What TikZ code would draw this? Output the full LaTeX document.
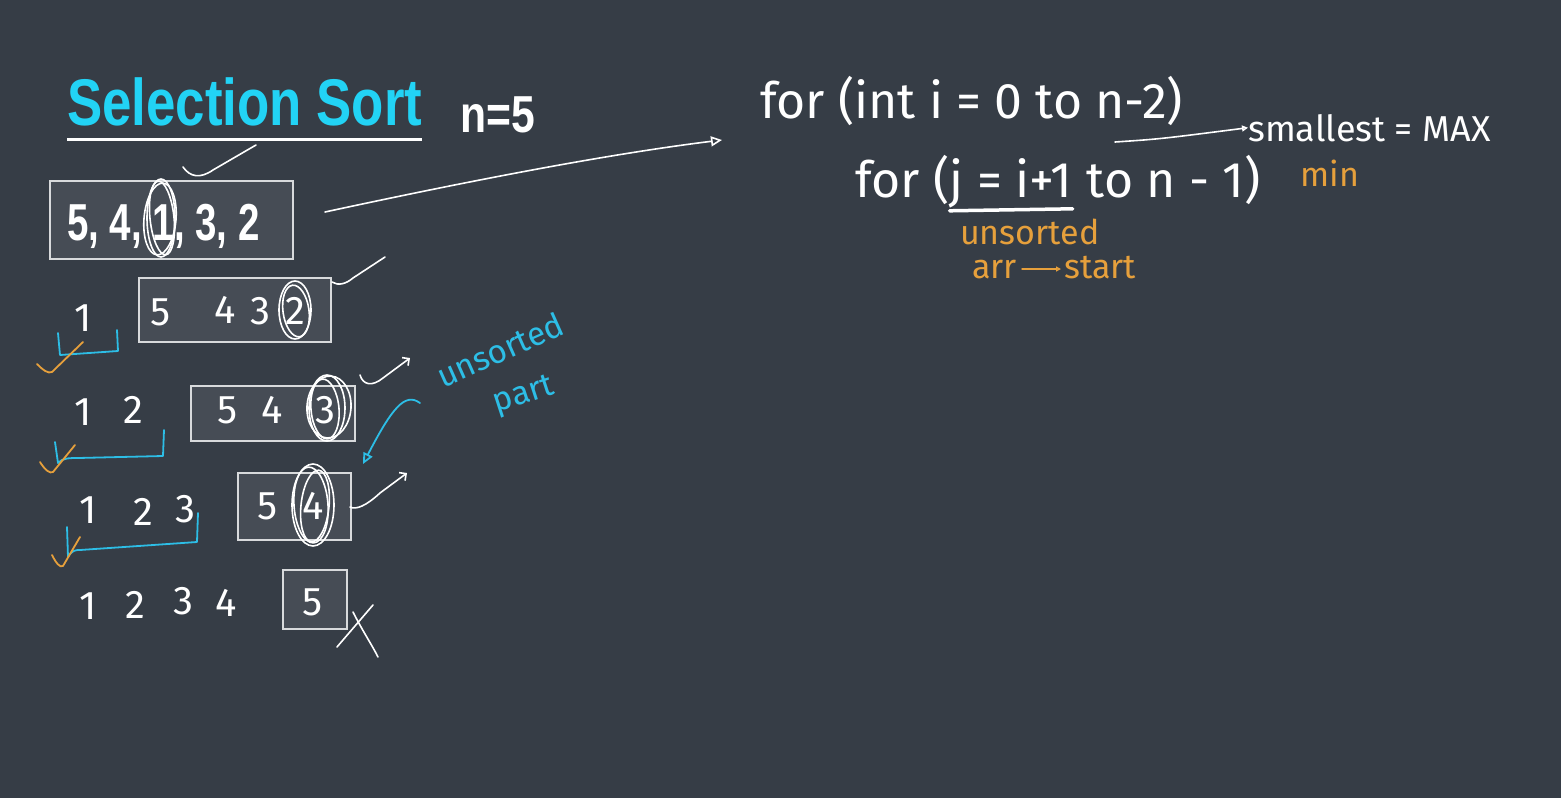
\documentclass[tikz,border=0pt]{standalone}
\usepackage{fontspec}
\setmainfont{Liberation Sans}
\newfontfamily\hand{Fira Sans}
\usetikzlibrary{arrows.meta}
\definecolor{bg}{HTML}{363D46}
\definecolor{boxfill}{HTML}{464C55}
\definecolor{boxline}{HTML}{D8DADC}
\definecolor{titlecyan}{HTML}{22D3F5}
\definecolor{pencyan}{HTML}{2DBEE6}
\definecolor{penorange}{HTML}{E6A03C}
\tikzset{
  pen/.style={draw=white, line width=1.6pt, line cap=round, line join=round},
  cpen/.style={draw=pencyan, line width=1.8pt, line cap=round, line join=round},
  open/.style={draw=penorange, line width=1.8pt, line cap=round, line join=round},
  arrbox/.style={draw=boxline, fill=boxfill, line width=1.5pt, inner sep=0pt, anchor=north west},
  hw/.style={font=\hand\fontsize{40}{40}\selectfont, text=white, inner sep=0pt},
  code/.style={font=\hand\fontsize{50}{50}\selectfont, text=white, inner sep=0pt, anchor=base west},
  boldtxt/.style={font=\bfseries\fontsize{52}{52}\selectfont, text=white, inner sep=0pt},
  otxt/.style={font=\hand\fontsize{34}{34}\selectfont, text=penorange, inner sep=0pt},
  ctxt/.style={font=\hand\fontsize{33}{33}\selectfont, text=pencyan, inner sep=0pt},
  tip/.style={-{Triangle[open, length=11pt, width=10pt]}}
}
\begin{document}
\begin{tikzpicture}[x=1pt,y=-1pt]
\fill[bg] (0,0) rectangle (1561,798);
\useasboundingbox (0,0) rectangle (1561,798);

% title
\node[font=\bfseries\fontsize{66}{66}\selectfont, text=titlecyan, inner sep=0pt, anchor=base west, xscale=0.8] (title) at (67,125) {Selection Sort};
\draw[draw=white, line width=3pt] (67,139) -- (422,139);
\node[boldtxt, anchor=base west, xscale=0.82] (n) at (460,132) {n=5};

% row 1
\node[arrbox, minimum width=243pt, minimum height=78pt] (b1) at (49,180) {};
\node[boldtxt, anchor=base west, xscale=0.74] (r1) at (67,240) {5, 4, 1, 3, 2};
\draw[pen] (161,218) ellipse [x radius=14, y radius=39];
\draw[pen, rotate around={6:(162,218)}] (162,218) ellipse [x radius=12, y radius=37];
\draw[pen, rotate around={-5:(160,219)}] (160,219) ellipse [x radius=16, y radius=36];
\draw[pen] (183,167) .. controls (190,177) and (200,179) .. (213,170) -- (256,145);

% arrow to code
\coordinate (a1s) at (325,212);
\coordinate (a1e) at (722,140);
\draw[pen, tip] (a1s) .. controls (450,185) and (600,155) .. (a1e);

% row 2
\node[arrbox, minimum width=192pt, minimum height=64pt] (b2) at (138,277) {};
\node[hw] (r2a) at (83,318) {1};
\node[hw] (b2a) at (161,312) {5};
\node[hw] (b2b) at (225,310) {4};
\node[hw] (b2c) at (260,311) {3};
\node[hw] (b2d) at (295,311) {2};
\draw[pen] (295,310) ellipse [x radius=16, y radius=29];
\draw[pen, rotate around={8:(296,311)}] (296,311) ellipse [x radius=13, y radius=26];
\draw[pen] (332,282) .. controls (338,286) and (346,284) .. (353,278) -- (385,257);
\draw[cpen] (58,333) -- (60,355) -- (118,351) -- (117,330);
\draw[open] (37,364) .. controls (43,370) and (48,374) .. (52,372) -- (83,342);

% row 3
\node[arrbox, minimum width=164pt, minimum height=55pt] (b3) at (190,385) {};
\node[hw] (r3a) at (83,412) {1};
\node[hw] (r3b) at (133,410) {2};
\node[hw] (b3a) at (228,410) {5};
\node[hw] (b3b) at (272,410) {4};
\node[hw] (b3c) at (325,410) {3};
\draw[pen] (327,408) ellipse [x radius=18, y radius=33];
\draw[pen, rotate around={5:(325,409)}] (325,409) ellipse [x radius=14, y radius=30];
\draw[pen, rotate around={-4:(329,407)}] (329,407) ellipse [x radius=22, y radius=31];
\draw[pen, -{Straight Barb[length=5pt]}] (360,375) .. controls (363,385) and (372,387) .. (383,378) -- (410,358);
\draw[cpen] (55,442) -- (58,463) .. controls (62,458) and (70,458) .. (78,458) -- (163,456) -- (164,430);
\draw[open] (40,462) .. controls (45,470) and (50,474) .. (53,472) -- (75,445);

% row 4
\node[arrbox, minimum width=113pt, minimum height=67pt] (b4) at (237,472) {};
\node[hw] (r4a) at (88,510) {1};
\node[hw] (r4b) at (143,512) {2};
\node[hw] (r4c) at (185,509) {3};
\node[hw] (b4a) at (268,506) {5};
\node[hw] (b4b) at (313,506) {4};
\draw[pen] (313,505) ellipse [x radius=21, y radius=41];
\draw[pen, rotate around={4:(311,505)}] (311,505) ellipse [x radius=17, y radius=38];
\draw[pen, rotate around={-6:(315,506)}] (315,506) ellipse [x radius=14, y radius=36];
\draw[pen, -{Straight Barb[length=5pt]}] (350,507) .. controls (356,510) and (366,506) .. (380,493) -- (407,473);
\draw[cpen] (67,527) -- (68,557) .. controls (72,550) and (76,550) .. (80,550) -- (197,542) -- (198,513);
\draw[open] (52,555) .. controls (56,563) and (60,568) .. (63,566) -- (80,537);

% row 5
\node[arrbox, minimum width=64pt, minimum height=59pt] (b5) at (282,569) {};
\node[hw] (r5a) at (88,606) {1};
\node[hw] (r5b) at (135,605) {2};
\node[hw] (r5c) at (183,601) {3};
\node[hw] (r5d) at (226,603) {4};
\node[hw] (b5a) at (313,602) {5};
\draw[pen] (337,647) -- (373,605);
\draw[pen] (353,612) .. controls (362,630) and (372,645) .. (378,657);

% unsorted part
\node[ctxt, rotate=24] (up1) at (500,350) {unsorted};
\node[ctxt, rotate=18] (up2) at (524,396) {part};
\coordinate (ca) at (420,403);
\coordinate (cb) at (363,464);
\draw[cpen, tip] (ca) .. controls (405,392) and (392,408) .. (cb);

% code
\node[code] (l1) at (760,118) {for (int i = 0 to n-2)};
\node[code] (l2a) at (855,197) {for (};
\node[code] (l2b) at (l2a.base east) {j = i+1};
\node[code] (l2c) at ([xshift=14pt]l2b.base east) {to n - 1)};
\draw[draw=white, line width=3.5pt, line cap=round] ([yshift=-3pt]l2b.south west) -- ([yshift=-1pt]l2b.south east);
\coordinate (sa) at (1115,142);
\node[code, font=\hand\fontsize{36}{36}\selectfont] (sm) at (1248,141) {smallest = MAX};
\draw[pen, -{Triangle[open, length=6pt, width=6pt]}] (sa) .. controls (1160,139) .. (sm.west);
\node[otxt] (mn) at (1330,173) {min};
\node[otxt, anchor=base west] (us) at (960,244) {unsorted};
\node[otxt, anchor=base west] (arr) at (972,278) {arr};
\node[otxt, anchor=base west] (st) at (1064,278) {start};
\draw[open, -{Triangle[open, length=5pt, width=5pt]}] ([xshift=5pt, yshift=9pt]arr.base east) -- ([xshift=-3pt, yshift=9pt]st.base west);
\end{tikzpicture}
\end{document}
